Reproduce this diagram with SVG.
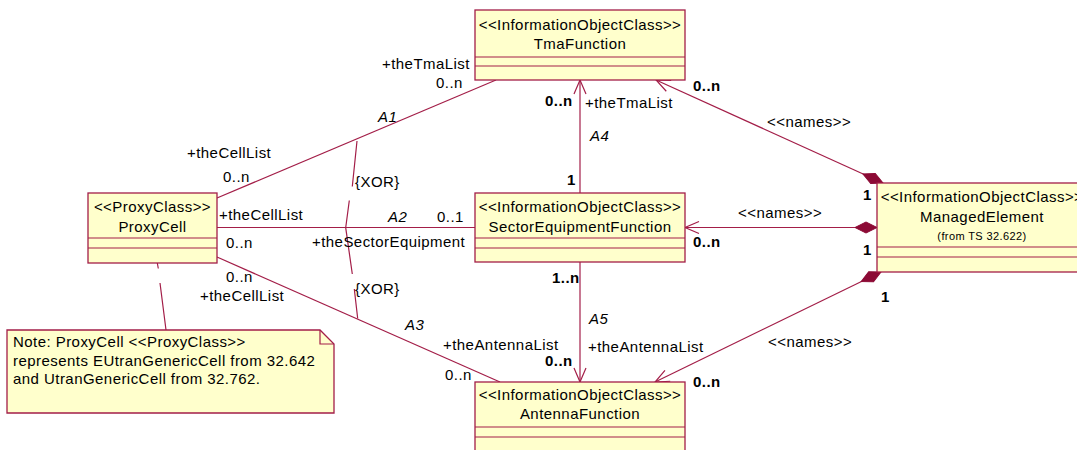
<svg xmlns="http://www.w3.org/2000/svg" width="1077" height="450" viewBox="0 0 1077 450">
<style>
text{font-family:"Liberation Sans",Arial,sans-serif;font-size:15px;letter-spacing:0.45px;fill:#000}
.c{text-anchor:middle}
.s{font-size:11px;letter-spacing:0.4px}
.b{font-weight:bold}
.i{font-style:italic}
.box{fill:#FFFFCC;stroke:#A31E48;stroke-width:1.3}
.ln{stroke:#A31E48;stroke-width:1.2;fill:none}
</style>
<defs>
<marker id="open" viewBox="-16 -8 18 16" markerWidth="18" markerHeight="16" refX="0" refY="0" orient="auto" markerUnits="userSpaceOnUse">
<path d="M-14,-6 L0,0 L-14,6" fill="none" stroke="#A31E48" stroke-width="1.2"/>
</marker>
<marker id="dia" viewBox="-1 -7 25 14" markerWidth="25" markerHeight="14" refX="0" refY="0" orient="auto" markerUnits="userSpaceOnUse">
<path d="M0,0 L11,-5.5 L22,0 L11,5.5 Z" fill="#8C0A35" stroke="#8C0A35" stroke-width="1"/>
</marker>
</defs>

<g id="connectors">
<!-- A1 -->
<path class="ln" d="M217,198 L496,80"/>
<!-- A2 -->
<path class="ln" d="M217,227.5 L475,227.5"/>
<!-- A3 -->
<path class="ln" d="M217,257 L500,382"/>
<!-- A4 -->
<path class="ln" d="M580,193 L580,80" marker-end="url(#open)"/>
<!-- A5 -->
<path class="ln" d="M580,262 L580,382" marker-end="url(#open)"/>
<!-- names ME->Tma -->
<path class="ln" d="M883,183 L656,80" marker-start="url(#dia)" marker-end="url(#open)"/>
<!-- names ME->SEF -->
<path class="ln" d="M877,227.5 L685,227.5" marker-start="url(#dia)" marker-end="url(#open)"/>
<!-- names ME->AF -->
<path class="ln" d="M881,272 L655,382" marker-start="url(#dia)" marker-end="url(#open)"/>
<!-- XOR constraints -->
<path class="ln" d="M357,141 L352.3,186.5 M349.3,200.5 L345.7,227.7 L352.3,274 M354.3,289 L357.7,318.5"/>
<!-- note anchor -->
<path class="ln" d="M157.3,263 L158.3,268.5 M160,283 L166,330"/>
</g>

<g id="TmaFunction">
<rect class="box" x="475" y="10" width="210" height="70"/>
<path class="ln" d="M475,57 H685 M475,66 H685"/>
<text class="c" x="580" y="30">&lt;&lt;InformationObjectClass&gt;&gt;</text>
<text class="c" x="580" y="49">TmaFunction</text>
</g>

<g id="ProxyCell">
<rect class="box" x="88" y="193" width="129" height="70"/>
<path class="ln" d="M88,238 H217 M88,248 H217"/>
<text class="c" x="152.5" y="212">&lt;&lt;ProxyClass&gt;&gt;</text>
<text class="c" x="152.5" y="232">ProxyCell</text>
</g>

<g id="SectorEquipmentFunction">
<rect class="box" x="475" y="193" width="210" height="69"/>
<path class="ln" d="M475,238 H685 M475,248 H685"/>
<text class="c" x="580" y="212">&lt;&lt;InformationObjectClass&gt;&gt;</text>
<text class="c" x="580" y="232">SectorEquipmentFunction</text>
</g>

<g id="AntennaFunction">
<rect class="box" x="475" y="382" width="210" height="80"/>
<path class="ln" d="M475,427 H685 M475,437 H685"/>
<text class="c" x="580" y="400">&lt;&lt;InformationObjectClass&gt;&gt;</text>
<text class="c" x="580" y="419">AntennaFunction</text>
</g>

<g id="ManagedElement">
<rect class="box" x="877" y="183" width="210" height="89"/>
<path class="ln" d="M877,247 H1087 M877,257 H1087"/>
<text class="c" x="982" y="202">&lt;&lt;InformationObjectClass&gt;&gt;</text>
<text class="c" x="982" y="222">ManagedElement</text>
<text class="c s" x="982" y="240">(from TS 32.622)</text>
</g>

<g id="Note">
<path class="box" d="M7,330 H320 L334,344 V413 H7 Z"/>
<path class="ln" d="M320,330 V344 H334"/>
<text x="13" y="347">Note: ProxyCell &lt;&lt;ProxyClass&gt;&gt;</text>
<text x="13" y="366">represents EUtranGenericCell from 32.642</text>
<text x="13" y="384">and UtranGenericCell from 32.762.</text>
</g>

<g id="labels">
<text x="382" y="69">+theTmaList</text>
<text x="436" y="88">0..n</text>
<text class="i" x="378" y="122">A1</text>
<text x="187" y="158">+theCellList</text>
<text x="223" y="182">0..n</text>
<text x="355" y="187">{XOR}</text>
<text x="219" y="220">+theCellList</text>
<text class="i" x="388" y="222">A2</text>
<text x="437" y="222">0..1</text>
<text x="226" y="248">0..n</text>
<text x="312" y="247">+theSectorEquipment</text>
<text x="355" y="294">{XOR}</text>
<text x="226" y="282">0..n</text>
<text x="200" y="301">+theCellList</text>
<text class="i" x="405" y="330">A3</text>
<text x="443" y="350">+theAntennaList</text>
<text x="445" y="380">0..n</text>
<text class="b" x="545" y="106">0..n</text>
<text x="585" y="108">+theTmaList</text>
<text class="i" x="590" y="141">A4</text>
<text class="b" x="567" y="185">1</text>
<text class="b" x="693" y="91">0..n</text>
<text x="767" y="127">&lt;&lt;names&gt;&gt;</text>
<text class="b" x="863" y="200">1</text>
<text x="738" y="218">&lt;&lt;names&gt;&gt;</text>
<text class="b" x="693" y="247">0..n</text>
<text class="b" x="863" y="255">1</text>
<text class="b" x="881" y="302">1</text>
<text class="b" x="552" y="283">1..n</text>
<text class="i" x="589" y="324">A5</text>
<text x="588" y="352">+theAntennaList</text>
<text class="b" x="545" y="366">0..n</text>
<text class="b" x="693" y="387">0..n</text>
<text x="768" y="347">&lt;&lt;names&gt;&gt;</text>
</g>
</svg>
